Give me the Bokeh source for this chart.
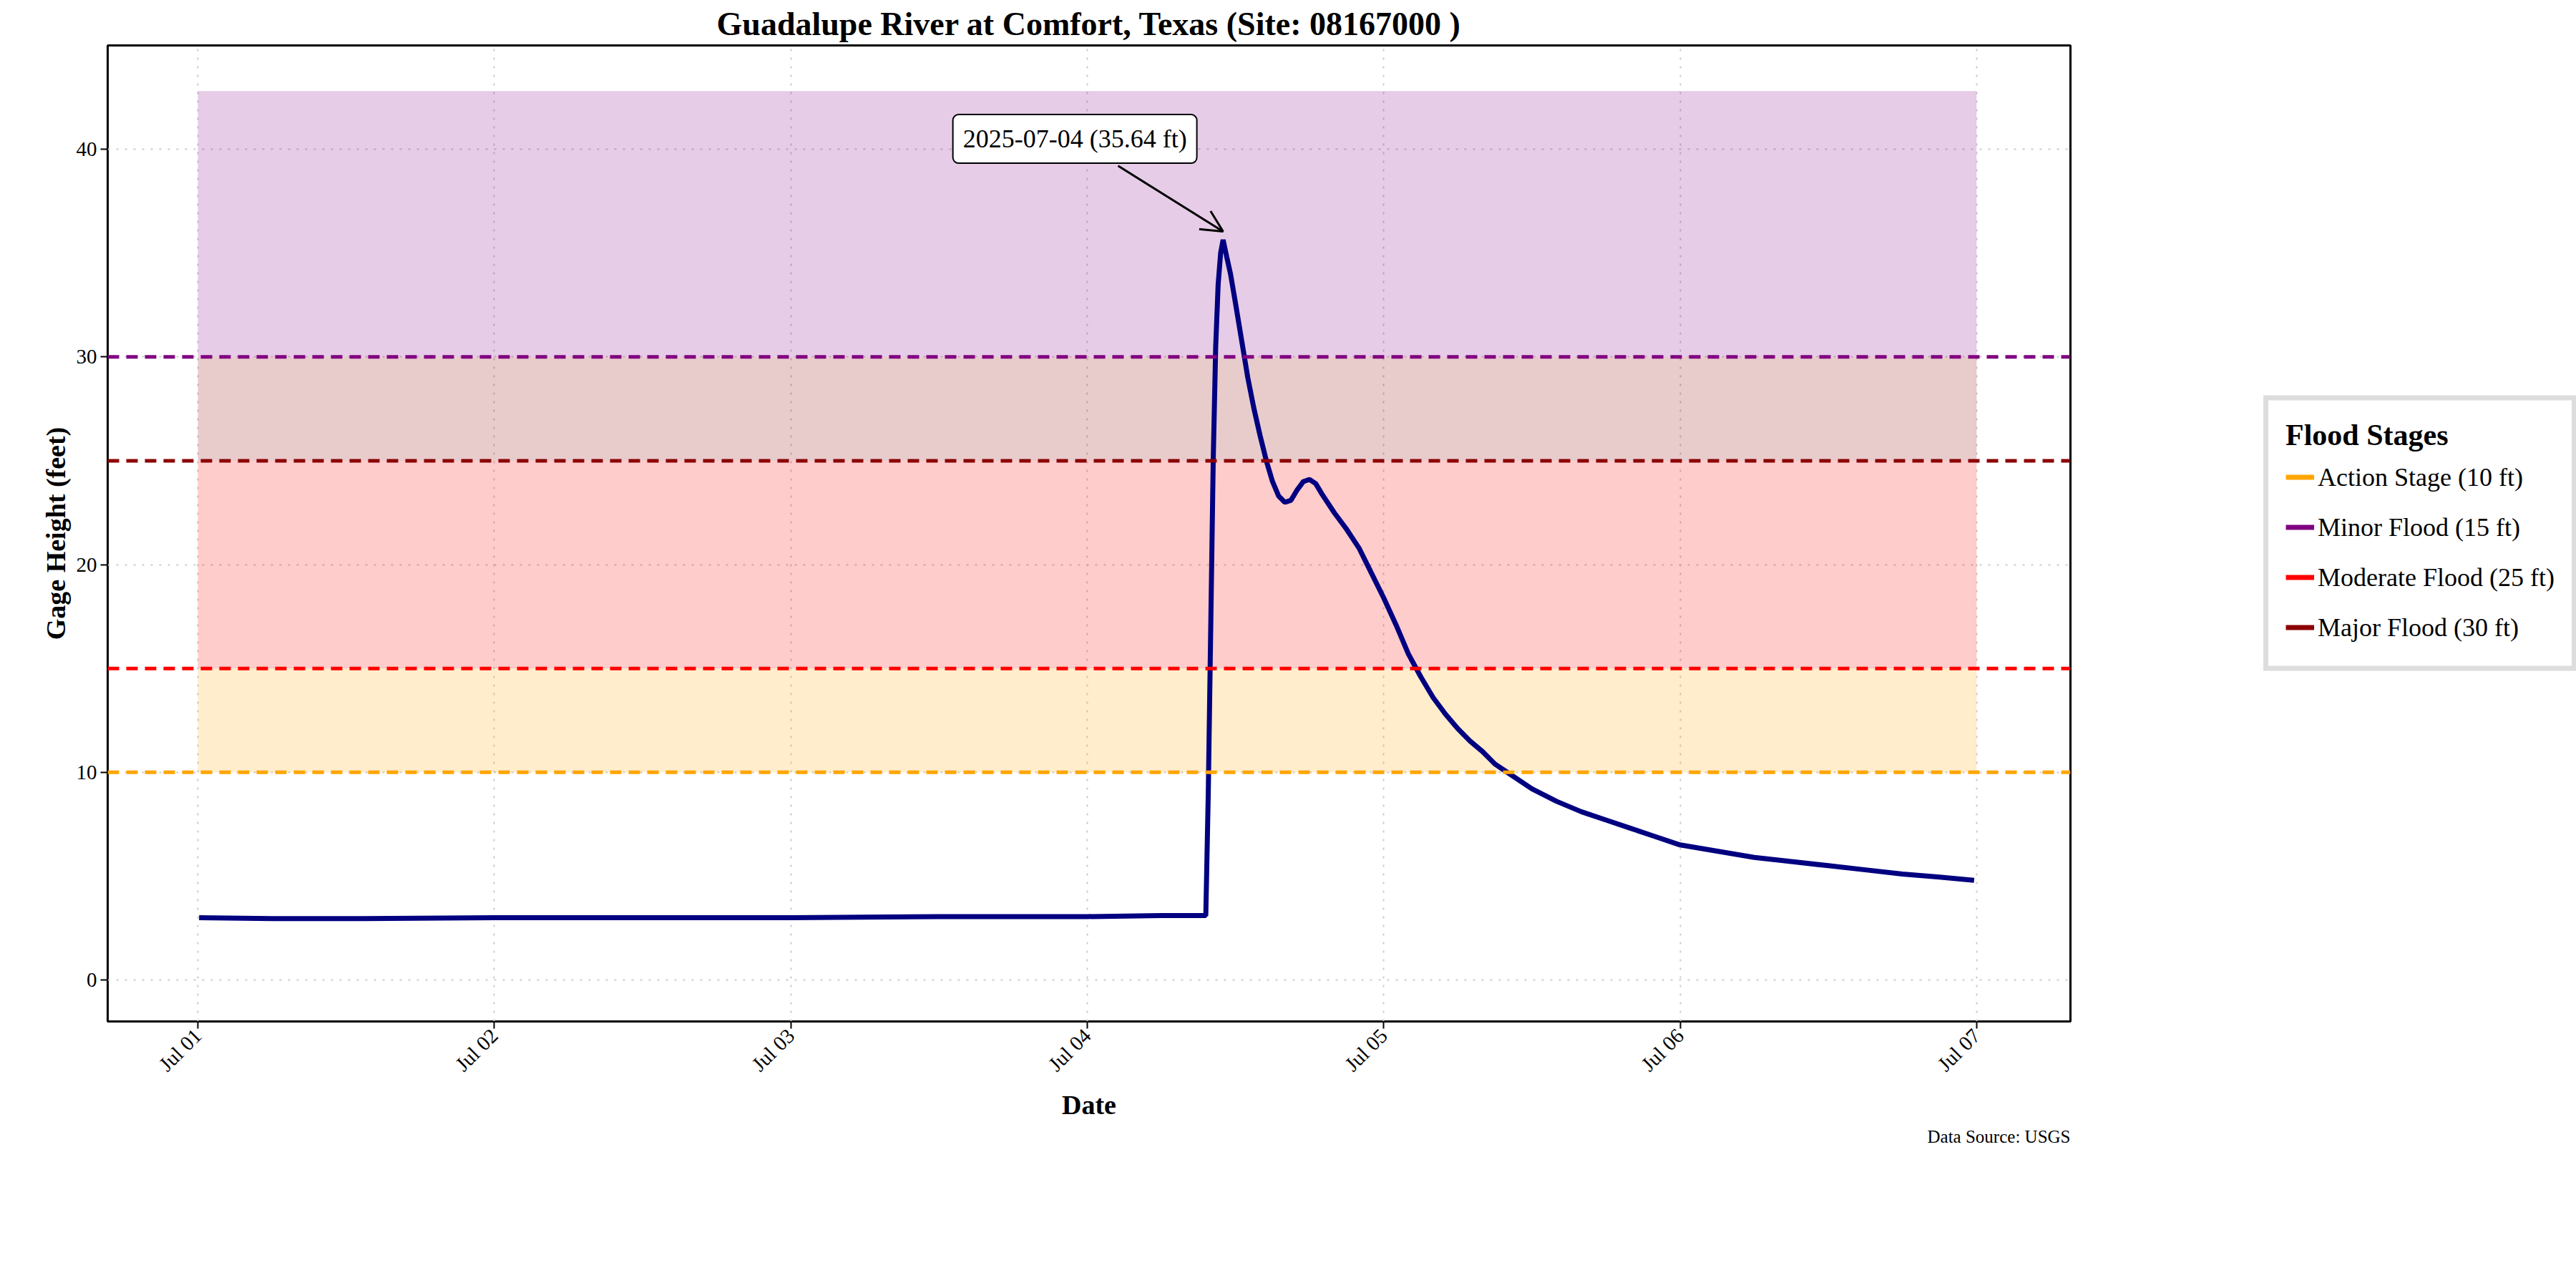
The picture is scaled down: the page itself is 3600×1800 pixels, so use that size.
from datetime import datetime, timedelta

from bokeh.plotting import figure
from bokeh.models import (Span, Label, Arrow, OpenHead, Legend, LegendItem,
                          DatetimeTickFormatter, Range1d, Title, ColumnDataSource)
from bokeh.embed import file_html
from bokeh.resources import INLINE

start = datetime(2025, 7, 1)

# gage height, hours after Jul 01 00:00 -> feet
hours = [0.1, 6, 12, 24, 36, 48, 60, 72, 78, 81.6, 81.8, 82.0, 82.2, 82.4, 82.6, 82.8,
         83.0, 83.3, 83.6, 84, 84.5, 85, 85.5, 86, 86.5, 87, 87.5, 88, 88.5, 89, 89.5,
         90, 90.5, 91, 92, 93, 94, 95, 96, 97, 98, 99, 100, 101, 102, 103, 104, 105,
         106, 108, 110, 112, 114, 116, 118, 120, 123, 126, 129, 132, 135, 138, 141, 143.8]
heights = [3.0, 2.95, 2.95, 3.0, 3.0, 3.0, 3.05, 3.05, 3.1, 3.1, 9.0, 17.0, 25.0, 30.5,
           33.5, 35.0, 35.64, 34.8, 34.0, 32.6, 30.8, 29.0, 27.5, 26.2, 25.0, 24.0,
           23.3, 23.0, 23.1, 23.6, 24.0, 24.1, 23.9, 23.4, 22.5, 21.7, 20.8, 19.6,
           18.4, 17.1, 15.7, 14.6, 13.6, 12.8, 12.1, 11.5, 11.0, 10.4, 10.0, 9.2, 8.6,
           8.1, 7.7, 7.3, 6.9, 6.5, 6.2, 5.9, 5.7, 5.5, 5.3, 5.1, 4.95, 4.8]

stage_levels = [10, 15, 25, 30]
stage_colors = ["orange", "red", "darkred", "purple"]
band_bottoms = [10, 15, 25, 30]
band_tops = [15, 25, 30, 42.8]
band_colors = ["orange", "red", "darkred", "purple"]
legend_labels = ["Action Stage (10 ft)", "Minor Flood (15 ft)",
                 "Moderate Flood (25 ft)", "Major Flood (30 ft)"]
legend_colors = ["orange", "purple", "red", "darkred"]

times = [start + timedelta(hours=h) for h in hours]
peak_i = heights.index(max(heights))

font = "Liberation Serif"
p = figure(frame_width=2743, frame_height=1364, x_axis_type="datetime",
           output_backend="svg", toolbar_location=None,
           x_range=Range1d(start - timedelta(hours=7.3), start + timedelta(hours=151.6)),
           y_range=Range1d(-2, 45),
           min_border_left=150, min_border_top=60, min_border_bottom=60,
           min_border_right=20)

p.title.text = "Guadalupe River at Comfort, Texas (Site: 08167000 )"
p.title.align = "center"
p.title.text_font = font
p.title.text_font_size = "46px"
p.title.text_color = "black"
p.title.offset = 0

src = ColumnDataSource(dict(left=[start] * 4, right=[start + timedelta(days=6)] * 4,
                            bottom=band_bottoms, top=band_tops, color=band_colors))
p.quad(left="left", right="right", bottom="bottom", top="top", color="color",
       fill_alpha=0.2, line_alpha=0, source=src)

for lvl, c in zip(stage_levels, stage_colors):
    p.add_layout(Span(location=lvl, dimension="width", line_color=c,
                      line_width=5, line_dash="16 10"))

p.line(times, heights, line_color="navy", line_width=7)

p.add_layout(Arrow(end=OpenHead(size=30, line_width=3), line_width=3,
                   x_start=start + timedelta(hours=74.5), y_start=39.2,
                   x_end=times[peak_i], y_end=heights[peak_i] + 0.4))
p.add_layout(Label(x=start + timedelta(hours=71), y=40.5,
                   text=f"{times[peak_i]:%Y-%m-%d} ({heights[peak_i]:.2f} ft)",
                   text_align="center", text_baseline="middle",
                   text_font=font, text_font_size="36px", text_color="black",
                   border_line_color="black", border_line_width=2,
                   background_fill_color="white", padding=14, border_radius=8))

items = []
for lab, c in zip(legend_labels, legend_colors):
    r = p.line([start, start], [float("nan"), float("nan")], line_color=c, line_width=7)
    items.append(LegendItem(label=lab, renderers=[r]))
legend = Legend(items=items, title="Flood Stages", location="center",
                label_text_font=font, label_text_font_size="36px", label_text_color="black",
                title_text_font=font, title_text_font_size="42px",
                title_text_font_style="bold", title_text_color="black",
                border_line_color="#bbbbbb", border_line_width=7,
                glyph_width=40, glyph_height=60,
                spacing=10, padding=24, margin=40)
p.add_layout(legend, "right")

p.xaxis.formatter = DatetimeTickFormatter(days="%b %d", hours="%b %d")
p.xaxis.major_label_orientation = 0.785
p.xaxis.axis_label = "Date"
p.yaxis.axis_label = "Gage Height (feet)"
p.yaxis.ticker = [0, 10, 20, 30, 40]
for ax in (p.xaxis, p.yaxis):
    ax.axis_label_text_font = font
    ax.axis_label_text_font_size = "38px"
    ax.axis_label_text_font_style = "bold"
    ax.axis_label_text_color = "black"
    ax.major_label_text_font = font
    ax.major_label_text_font_size = "29px"
    ax.major_label_text_color = "black"
    ax.axis_line_color = None
    ax.minor_tick_line_color = None
    ax.major_tick_line_width = 2
    ax.major_tick_out = 10
    ax.major_tick_in = 0
p.outline_line_color = "black"
p.outline_line_width = 3
p.grid.grid_line_color = "#cccccc"
p.grid.grid_line_dash = "3 9"
p.grid.grid_line_width = 2

p.add_layout(Title(text="Data Source: USGS", align="right", text_font=font,
                   text_font_size="25px", text_font_style="normal",
                   text_color="black"), "below")

open("out.html", "w").write(file_html(p, INLINE))
